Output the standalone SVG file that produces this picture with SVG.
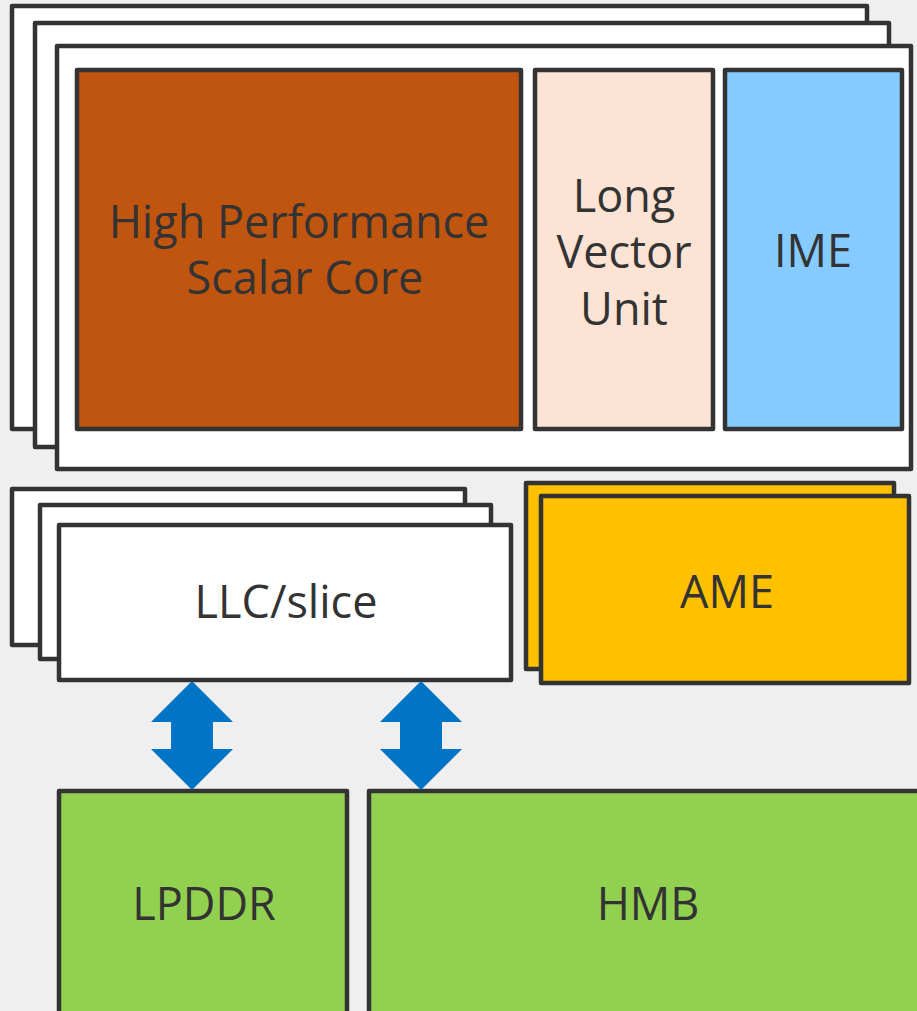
<svg xmlns="http://www.w3.org/2000/svg" width="917" height="1011" viewBox="0 0 917 1011">
  <defs>
    <style>
      .box { stroke: #333333; stroke-width: 4.5; stroke-linejoin: round; }
      .white { fill: #ffffff; }
      .lbl { font-family: "Open Sans", "Noto Sans", "Liberation Sans", sans-serif; fill: #333333; text-anchor: middle; font-size: 45px; }
      .arrow { fill: #0174C6; }
    </style>
  </defs>
  <rect x="0" y="0" width="917" height="1011" fill="#efefef"/>

  <g id="core-cluster">
    <rect class="box white" x="12" y="6" width="855" height="423"/>
    <rect class="box white" x="35" y="23" width="854" height="424"/>
    <rect class="box white" x="57" y="46" width="854" height="423"/>
  </g>
  <g id="scalar-core">
    <rect class="box" x="77" y="70" width="444" height="359" fill="#C0550F"/>
    <text class="lbl" x="299" y="238">High Performance</text>
    <text class="lbl" x="305" y="294">Scalar Core</text>
  </g>
  <g id="long-vector-unit">
    <rect class="box" x="535" y="70" width="178" height="359" fill="#FCE3D4"/>
    <text class="lbl" x="624" y="212">Long</text>
    <text class="lbl" x="624" y="268">Vector</text>
    <text class="lbl" x="624" y="325">Unit</text>
  </g>
  <g id="ime">
    <rect class="box" x="725" y="70" width="177" height="359" fill="#85CBFF"/>
    <text class="lbl" x="813" y="267">IME</text>
  </g>

  <g id="llc">
    <rect class="box white" x="12" y="489" width="453" height="156"/>
    <rect class="box white" x="40" y="505" width="451" height="154"/>
    <rect class="box white" x="59" y="525" width="452" height="155"/>
    <text class="lbl" x="286" y="618">LLC/slice</text>
  </g>

  <g id="ame">
    <rect class="box" x="526" y="483" width="368" height="186" fill="#FFC000"/>
    <rect class="box" x="541" y="496" width="368" height="187" fill="#FFC000"/>
    <text class="lbl" x="727" y="608">AME</text>
  </g>

  <g id="lpddr">
    <rect class="box" x="59" y="791" width="288" height="240" fill="#92D050"/>
    <text class="lbl" x="204" y="920">LPDDR</text>
  </g>
  <g id="hmb">
    <rect class="box" x="369" y="791" width="570" height="240" fill="#92D050"/>
    <text class="lbl" x="648" y="920">HMB</text>
  </g>

  <g id="connectors">
    <polygon class="arrow" points="192,681 233,722 213,722 213,749 233,749 192,790 151,749 171,749 171,722 151,722"/>
    <polygon class="arrow" points="421,681 462,722 442,722 442,749 462,749 421,790 380,749 400,749 400,722 380,722"/>
  </g>
</svg>
